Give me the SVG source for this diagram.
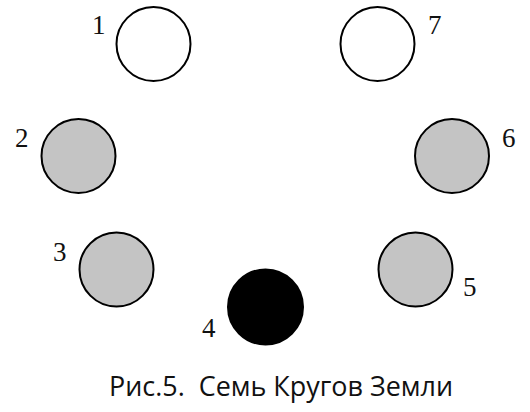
<svg xmlns="http://www.w3.org/2000/svg" width="530" height="412" viewBox="0 0 530 412">
<style>
.c{stroke:#000;stroke-width:2}
.w{fill:#fff}
.g{fill:#c4c4c4}
.b{fill:#000}
.n{font-family:"Liberation Serif","Times New Roman",serif;font-size:27px;fill:#111}
.cap{font-family:"Open Sans","Noto Sans",sans-serif;font-size:28px;fill:#111}
</style>
<rect width="530" height="412" fill="#fff"/>
<g id="node1"><circle class="c w" cx="153.5" cy="44" r="37"/><text class="n" x="92" y="34">1</text></g>
<g id="node2"><circle class="c g" cx="78.5" cy="156" r="37"/><text class="n" x="15" y="147">2</text></g>
<g id="node3"><circle class="c g" cx="116.5" cy="269.5" r="37"/><text class="n" x="53" y="261">3</text></g>
<g id="node4"><circle class="c b" cx="265.5" cy="307" r="37.5"/><text class="n" x="202" y="337">4</text></g>
<g id="node5"><circle class="c g" cx="415.5" cy="269.5" r="37"/><text class="n" x="463" y="296">5</text></g>
<g id="node6"><circle class="c g" cx="452" cy="156" r="37"/><text class="n" x="502" y="147">6</text></g>
<g id="node7"><circle class="c w" cx="377.5" cy="44" r="37"/><text class="n" x="428" y="34">7</text></g>
<g id="connectors"></g>
<text class="cap" x="109" y="396" textLength="344" lengthAdjust="spacingAndGlyphs" xml:space="preserve">Рис.5.  Семь Кругов Земли</text>
</svg>
